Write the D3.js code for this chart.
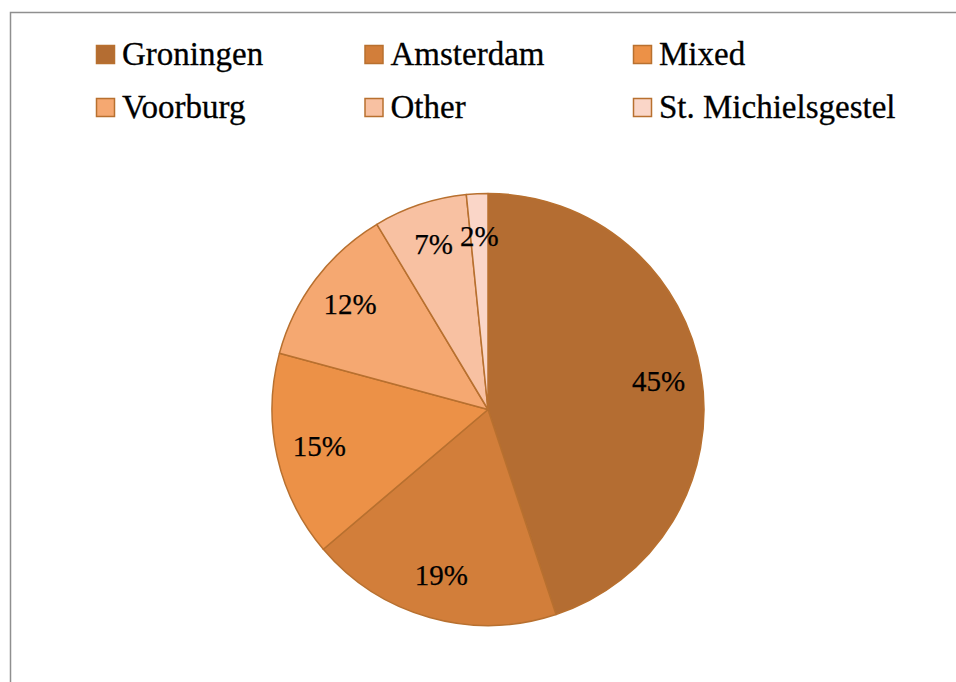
<!DOCTYPE html>
<html>
<head>
<meta charset="utf-8">
<script src="https://cdn.jsdelivr.net/npm/d3@7"></script>
<style>
  body { margin: 0; background: #fff; }
  svg { display: block; }
</style>
</head>
<body>
<svg id="chart"></svg>
<script>
// data (share of total, %)
let cities = ['Groningen', 'Amsterdam', 'Mixed', 'Voorburg', 'Other', 'St. Michielsgestel'];
let shares = [44.9, 18.9, 15.4, 12.2, 7.0, 1.6];
let colors = ['#b46d32', '#d27e3a', '#ec9147', '#f5a871', '#f8c1a2', '#fad6c8'];

let width = 956, height = 682;
let svg = d3.select('#chart')
            .attr('width', width)
            .attr('height', height);

// chart frame (runs off the right and bottom)
svg.append('rect')
    .attr('x', 10.5)
    .attr('y', 12.5)
    .attr('width', 1000)
    .attr('height', 1000)
    .attr('fill', 'none')
    .attr('stroke', '#8f8f8f')
    .attr('stroke-width', 1.5);

let font = '"Liberation Serif", "Times New Roman", serif';
let color = d3.scaleOrdinal().domain(cities).range(colors);

// legend, 3 columns x 2 rows
let colX = d3.scalePoint().domain([0, 1, 2]).range([96, 633]);
let rowY = d3.scalePoint().domain([0, 1]).range([45, 98]);

let legend = svg.selectAll('.legend')
    .data(cities)
    .enter()
    .append('g')
    .classed('legend', true)
    .attr('transform', (d, i) => `translate(${colX(i % 3)},${rowY(Math.floor(i / 3))})`);

legend.append('rect')
    .attr('x', 0.5)
    .attr('y', 0.5)
    .attr('width', 18)
    .attr('height', 18)
    .attr('fill', d => color(d))
    .attr('stroke', '#b8702f')
    .attr('stroke-width', 1.5);

legend.append('text')
    .attr('x', 26)
    .attr('y', 20)
    .attr('font-family', font)
    .attr('font-size', 33)
    .attr('fill', '#000')
    .attr('stroke', '#000')
    .attr('stroke-width', 0.3)
    .text(d => d);

// pie
let cx = 488, cy = 409.5, r = 216;
let total = d3.sum(shares);
let pie = d3.pie().sort(null).value(d => d.v);
let arcs = pie(cities.map((c, i) => ({ name: c, v: shares[i] })));
let arc = d3.arc().innerRadius(0).outerRadius(r);
let labelArc = d3.arc().innerRadius(r * 0.8).outerRadius(r * 0.8);

let g = svg.append('g').attr('transform', `translate(${cx},${cy})`);

g.selectAll('.slice')
    .data(arcs)
    .enter()
    .append('path')
    .classed('slice', true)
    .attr('d', arc)
    .attr('fill', d => color(d.data.name))
    .attr('stroke', '#b8702f')
    .attr('stroke-width', 1.5)
    .attr('stroke-linejoin', 'round');

let pct = d3.format('.0%');
g.selectAll('.lbl')
    .data(arcs)
    .enter()
    .append('text')
    .classed('lbl', true)
    .attr('transform', d => `translate(${labelArc.centroid(d)})`)
    .attr('text-anchor', 'middle')
    .attr('dy', '0.3em')
    .attr('font-family', font)
    .attr('font-size', 29)
    .attr('fill', '#000')
    .attr('stroke', '#000')
    .attr('stroke-width', 0.25)
    .text(d => pct(d.data.v / total));
</script>
</body>
</html>
